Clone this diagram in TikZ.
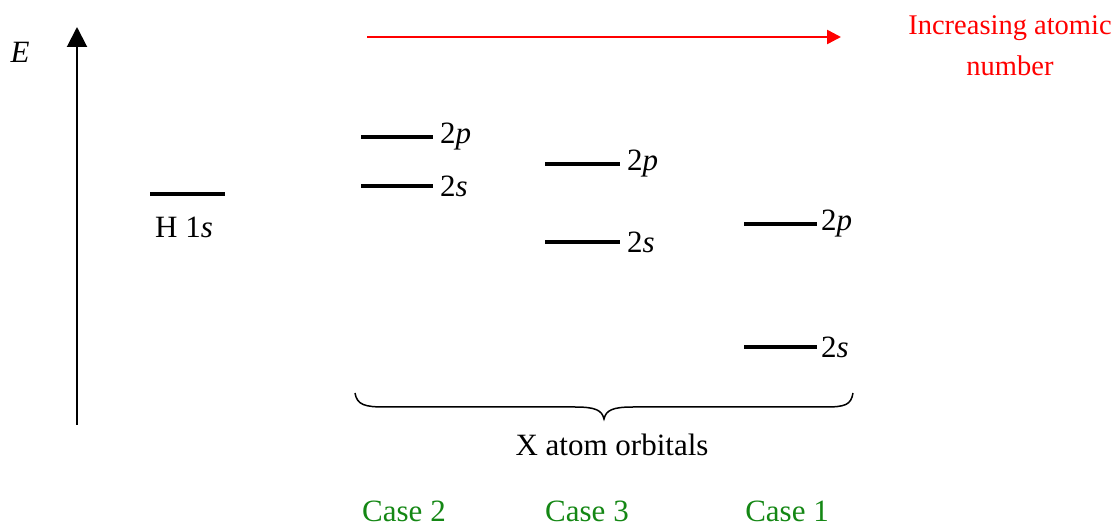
\documentclass[tikz,border=0pt]{standalone}
\usepackage{fontspec}
\setmainfont{Liberation Serif}
\usetikzlibrary{arrows.meta}
\definecolor{casegreen}{RGB}{20,135,20}
\begin{document}
\begin{tikzpicture}[x=1pt,y=-1pt,
  lvl/.style={line width=3.2pt},
  lbl/.style={font=\fontsize{31}{36}\selectfont, inner sep=0pt},
  caselbl/.style={font=\fontsize{31}{36}\selectfont, text=casegreen, inner sep=0pt},
  redlbl/.style={font=\fontsize{28.5}{41}\selectfont, text=red, align=center, inner sep=0pt}]
\useasboundingbox (0,0) rectangle (1120,526);
% energy axis
\coordinate (ebot) at (77,425);
\coordinate (etop) at (77,27);
\draw[line width=2pt, -{Triangle[length=20pt,width=20pt]}] (ebot) -- (etop);
\node[lbl] (E) at (20,52) {\textit{E}};
% red arrow
\coordinate (rs) at (367,37);
\coordinate (re) at (841,37);
\draw[red, line width=2.5pt, -{Triangle[length=14pt,width=14pt]}] (rs) -- (re);
\node[redlbl] (inc) at (1010,46) {Increasing atomic\\number};
% H 1s
\coordinate (h1) at (150,194); \coordinate (h2) at (225,194);
\draw[lvl] (h1) -- (h2);
\node[lbl] (hl) at (184,227) {H 1\textit{s}};
% Case 2
\coordinate (a1) at (361,137); \coordinate (a2) at (433,137);
\coordinate (b1) at (361,186); \coordinate (b2) at (433,186);
\draw[lvl] (a1) -- (a2);
\draw[lvl] (b1) -- (b2);
\node[lbl, anchor=west] (al) at (440,137) {2\textit{p}};
\node[lbl, anchor=west] (bl) at (440,186) {2\textit{s}};
% Case 3
\coordinate (c1) at (545,164); \coordinate (c2) at (620,164);
\coordinate (d1) at (545,242); \coordinate (d2) at (620,242);
\draw[lvl] (c1) -- (c2);
\draw[lvl] (d1) -- (d2);
\node[lbl, anchor=west] (cl) at (627,164) {2\textit{p}};
\node[lbl, anchor=west] (dl) at (627,242) {2\textit{s}};
% Case 1
\coordinate (e1) at (744,224); \coordinate (e2) at (817,224);
\coordinate (f1) at (744,347); \coordinate (f2) at (817,347);
\draw[lvl] (e1) -- (e2);
\draw[lvl] (f1) -- (f2);
\node[lbl, anchor=west] (el) at (821,224) {2\textit{p}};
\node[lbl, anchor=west] (fl) at (821,347) {2\textit{s}};
% brace
\draw[line width=1.5pt] (355,393) .. controls (357,405) and (365,407) .. (385,407)
  -- (575,407) .. controls (595,407) and (602,410) .. (604,419)
  .. controls (606,410) and (613,407) .. (633,407) -- (825,407)
  .. controls (845,407) and (851,405) .. (853,393);
\node[lbl] (xl) at (612,445) {X atom orbitals};
% cases
\node[caselbl] (k2) at (404,511) {Case 2};
\node[caselbl] (k3) at (587,511) {Case 3};
\node[caselbl] (k1) at (787,511) {Case 1};
\end{tikzpicture}
\end{document}
